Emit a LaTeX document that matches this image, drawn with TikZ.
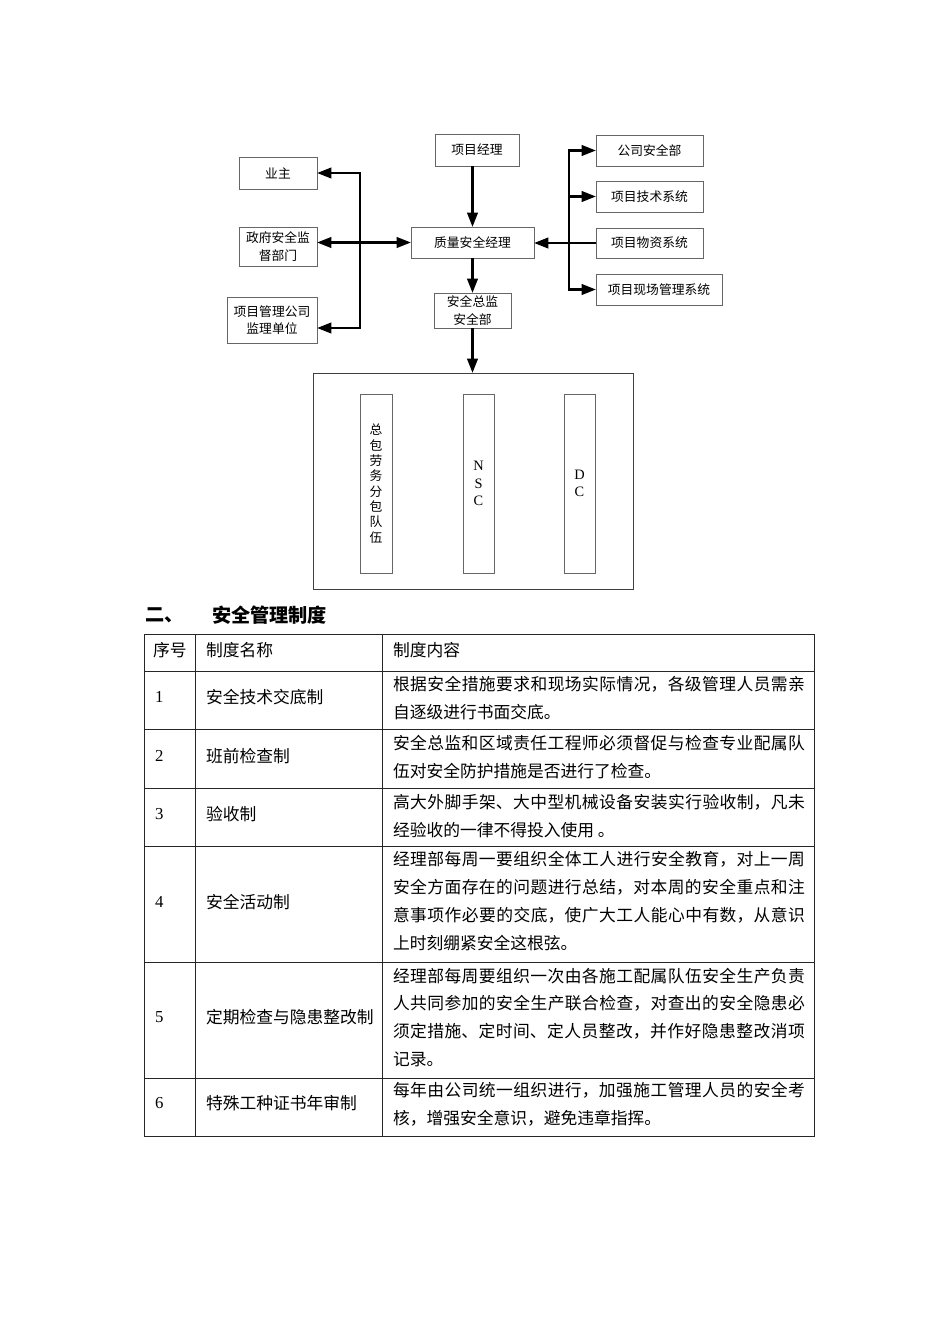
\documentclass[tikz,border=0pt]{standalone}
\usepackage{fontspec}
\setmainfont{Liberation Serif}
\newfontfamily\cjk{Noto Sans CJK SC}
\XeTeXlinebreaklocale "zh"
\XeTeXlinebreakskip=0pt plus 1pt
\usetikzlibrary{arrows.meta}
\begin{document}
\begin{tikzpicture}[x=0.6263pt,y=-0.6263pt,inner sep=0pt,outer sep=0pt,
>={Triangle[length=9pt,width=6.5pt]},
orgbox/.style 2 args={draw=black!60,line width=0.5pt,rectangle,align=center,font=\cjk\fontsize{8}{11}\selectfont,minimum width=#1*0.6263pt,minimum height=#2*0.6263pt},
link/.style={line width=1.7pt},
cell/.style={anchor=west,font=\cjk\fontsize{10.5}{17.5}\selectfont},
numcell/.style={anchor=west,font=\fontsize{10.5}{12}\selectfont},
para/.style={cell,text width=258pt,align=justify},
heading/.style={anchor=west,font=\cjk\bfseries\fontsize{12}{14}\selectfont}]
\useasboundingbox (0,0) rectangle (950,1344);
\draw (278,173) node[orgbox={78}{32}] (owner) {业主};
\draw (278,246.5) node[orgbox={78}{39}] (govt) {政府安全监\\督部门};
\draw (272,320) node[orgbox={90}{46}] (consult) {项目管理公司\\监理单位};
\draw (477,150) node[orgbox={84}{32}] (pm) {项目经理};
\draw (472.5,242.5) node[orgbox={123}{31}] (qsm) {质量安全经理};
\draw (472.5,310.5) node[orgbox={77}{35}] (hse) {安全总监\\安全部};
\draw (649.5,150.5) node[orgbox={107}{31}] (corp) {公司安全部};
\draw (649.5,196.5) node[orgbox={107}{31}] (tech) {项目技术系统};
\draw (649.5,243) node[orgbox={107}{30}] (supply) {项目物资系统};
\draw (659,289.5) node[orgbox={126}{31}] (site) {项目现场管理系统};
\draw (473,481) node[orgbox={320}{216},draw=black!75] (crews) {};
\draw (376,483.5) node[orgbox={32}{179},font=\cjk\fontsize{8}{9.6}\selectfont] (labour) {总\\包\\劳\\务\\分\\包\\队\\伍};
\draw (478.5,483.5) node[orgbox={31}{179},font=\fontsize{9}{11}\selectfont] (nsc) {N\\S\\C};
\draw (579.5,483.5) node[orgbox={31}{179},font=\fontsize{9}{11}\selectfont] (dc) {D\\C};
\coordinate (lbot) at (360,328);
\coordinate (rbot) at (569,289.5);
\draw[link,->] (pm.south -| qsm) -- (qsm.north);
\draw[link,->] (qsm) -- (hse);
\draw[link,->] (hse.south) -- (hse.south |- crews.north);
\draw[link,<->] (owner.east) -| (lbot) -- (lbot -| consult.east);
\draw[link,<->] (qsm.west) -- (qsm.west -| govt.east);
\draw[link,<->] (corp.west) -| (rbot) -- (site.west);
\draw[link,->] (tech.west -| rbot) -- (tech.west);
\draw[link,->] (supply.west) -- (supply.west -| qsm.east);
\draw (145,615) node[heading] (secnum) {二、};
\draw (212,615) node[heading] (sectitle) {安全管理制度};
\draw[black!85,line width=0.6pt] (144,634) rectangle (814,1136)
  (195,634) -- (195,1136) (382,634) -- (382,1136)
  (144,671) -- (814,671) (144,729) -- (814,729) (144,788) -- (814,788)
  (144,846) -- (814,846) (144,962) -- (814,962) (144,1078) -- (814,1078);
\draw (153,650) node[cell] (hno) {序号};
\draw (206,650) node[cell] (hname) {制度名称};
\draw (393,650) node[cell] (htext) {制度内容};
\draw (155,697) node[numcell] (no1) {1};
\draw (206,697) node[cell] (name1) {安全技术交底制};
\draw (393,698) node[para] (text1) {根据安全措施要求和现场实际情况，各级管理人员需亲自逐级进行书面交底。};
\draw (155,756) node[numcell] (no2) {2};
\draw (206,756) node[cell] (name2) {班前检查制};
\draw (393,757) node[para] (text2) {安全总监和区域责任工程师必须督促与检查专业配属队伍对安全防护措施是否进行了检查。};
\draw (155,814) node[numcell] (no3) {3};
\draw (206,814) node[cell] (name3) {验收制};
\draw (393,816.5) node[para] (text3) {高大外脚手架、大中型机械设备安装实行验收制，凡未经验收的一律不得投入使用 。};
\draw (155,902) node[numcell] (no4) {4};
\draw (206,902) node[cell] (name4) {安全活动制};
\draw (393,901) node[para] (text4) {经理部每周一要组织全体工人进行安全教育，对上一周安全方面存在的问题进行总结，对本周的安全重点和注意事项作必要的交底，使广大工人能心中有数，从意识上时刻绷紧安全这根弦。};
\draw (155,1017) node[numcell] (no5) {5};
\draw (206,1017) node[cell] (name5) {定期检查与隐患整改制};
\draw (393,1017.5) node[para] (text5) {经理部每周要组织一次由各施工配属队伍安全生产负责人共同参加的安全生产联合检查，对查出的安全隐患必须定措施、定时间、定人员整改，并作好隐患整改消项记录。};
\draw (155,1103) node[numcell] (no6) {6};
\draw (206,1103) node[cell] (name6) {特殊工种证书年审制};
\draw (393,1104.5) node[para] (text6) {每年由公司统一组织进行，加强施工管理人员的安全考核，增强安全意识，避免违章指挥。};
\end{tikzpicture}
\end{document}
